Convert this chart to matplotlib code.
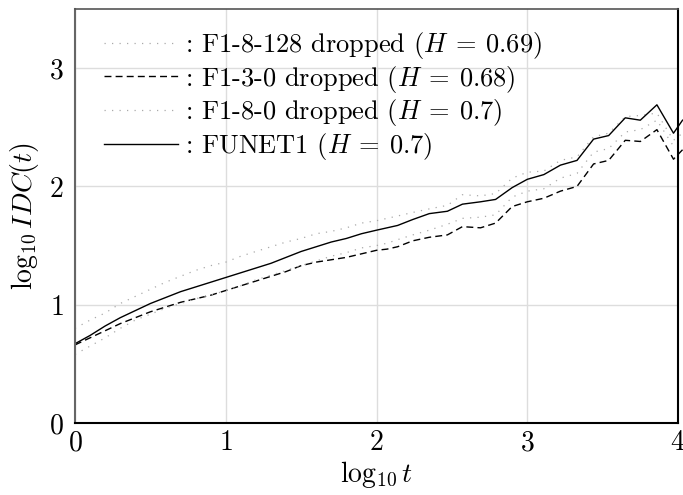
import matplotlib
matplotlib.use("Agg")
import matplotlib.pyplot as plt

plt.rcParams["font.family"] = "cmr10"
plt.rcParams["mathtext.fontset"] = "cm"
plt.rcParams["axes.formatter.use_mathtext"] = True

# log10 t sample points
log_t = [0.0, 0.1, 0.2, 0.3, 0.4, 0.5, 0.6, 0.7, 0.8, 0.9, 1.0, 1.1, 1.2, 1.3,
         1.4, 1.5, 1.6, 1.7, 1.8, 1.9, 2.0, 2.07, 2.14, 2.24, 2.35, 2.47, 2.57,
         2.69, 2.79, 2.90, 3.0, 3.11, 3.22, 3.33, 3.44, 3.54, 3.65, 3.75, 3.86,
         3.97, 4.03]

# log10 IDC(t) per trace
f1_8_128 = [0.80, 0.87, 0.93, 1.01, 1.07, 1.13, 1.19, 1.24, 1.29, 1.33, 1.36,
            1.41, 1.45, 1.49, 1.53, 1.56, 1.60, 1.62, 1.65, 1.69, 1.71, 1.73,
            1.75, 1.78, 1.81, 1.84, 1.93, 1.92, 1.94, 2.07, 2.12, 2.13, 2.22,
            2.25, 2.42, 2.45, 2.59, 2.60, 2.62, 2.39, 2.45]
f1_3_0 = [0.66, 0.72, 0.78, 0.84, 0.89, 0.94, 0.98, 1.02, 1.05, 1.08, 1.12,
          1.16, 1.20, 1.24, 1.28, 1.33, 1.36, 1.38, 1.40, 1.43, 1.46, 1.47,
          1.49, 1.54, 1.57, 1.59, 1.66, 1.65, 1.69, 1.83, 1.87, 1.90, 1.96,
          2.00, 2.19, 2.22, 2.39, 2.38, 2.48, 2.23, 2.31]
f1_8_0 = [0.58, 0.65, 0.72, 0.80, 0.87, 0.92, 0.97, 1.01, 1.05, 1.08, 1.12,
          1.16, 1.21, 1.25, 1.29, 1.33, 1.37, 1.41, 1.44, 1.48, 1.50, 1.52,
          1.55, 1.59, 1.63, 1.68, 1.73, 1.74, 1.76, 1.91, 1.96, 1.98, 2.07,
          2.11, 2.29, 2.32, 2.46, 2.48, 2.56, 2.34, 2.36]
funet1 = [0.67, 0.74, 0.82, 0.89, 0.95, 1.01, 1.06, 1.11, 1.15, 1.19, 1.23,
          1.27, 1.31, 1.35, 1.40, 1.45, 1.49, 1.53, 1.56, 1.60, 1.63, 1.65,
          1.67, 1.72, 1.77, 1.79, 1.85, 1.87, 1.89, 1.99, 2.06, 2.10, 2.18,
          2.22, 2.40, 2.43, 2.58, 2.56, 2.69, 2.45, 2.56]

labels = [
    r": F1-8-128 dropped ($H\:=\:0.69$)",
    r": F1-3-0 dropped ($H\:=\:0.68$)",
    r": F1-8-0 dropped ($H\:=\:0.7$)",
    r": FUNET1 ($H\:=\:0.7$)",
]

fig = plt.figure(figsize=(6.83, 4.95), dpi=100)
ax = fig.add_axes([0.1098, 0.1455, 0.8829, 0.8363])

ax.plot(log_t, f1_8_128, color="#aaaaaa", lw=0.9, linestyle=(0, (1, 5)),
        label=labels[0], clip_on=False)
ax.plot(log_t, f1_3_0, color="black", lw=1.0, linestyle=(0, (5, 3)),
        label=labels[1], clip_on=False)
ax.plot(log_t, f1_8_0, color="#aaaaaa", lw=0.9, linestyle=(0, (1, 5)),
        label=labels[2], clip_on=False)
ax.plot(log_t, funet1, color="black", lw=1.0, label=labels[3], clip_on=False)

ax.set_xlim(0, 4)
ax.set_ylim(0, 3.5)
ax.set_xticks([0, 1, 2, 3, 4])
ax.set_yticks([0, 1, 2, 3])
ax.tick_params(length=0, labelsize=20)
ax.tick_params(axis="y", pad=8)
ax.tick_params(axis="x", pad=5)
ax.grid(True, color="#dddddd", lw=1.0)
ax.set_axisbelow(True)

ax.spines["left"].set_color("#666666")
ax.spines["top"].set_color("#555555")
ax.spines["top"].set_linewidth(1.2)
ax.spines["left"].set_linewidth(1.5)
ax.spines["bottom"].set_linewidth(1.5)
ax.spines["right"].set_linewidth(1.5)

ax.set_xlabel(r"$\log_{10} t$", fontsize=20, labelpad=2)
ax.set_ylabel(r"$\log_{10} IDC(t)$", fontsize=20, labelpad=6)

leg = ax.legend(loc="upper left", bbox_to_anchor=(0.03, 0.975), frameon=False,
                fontsize=19, handlelength=2.8, handletextpad=0.3,
                labelspacing=0.1, borderaxespad=0.0)

fig.savefig("out.png", dpi=100)
